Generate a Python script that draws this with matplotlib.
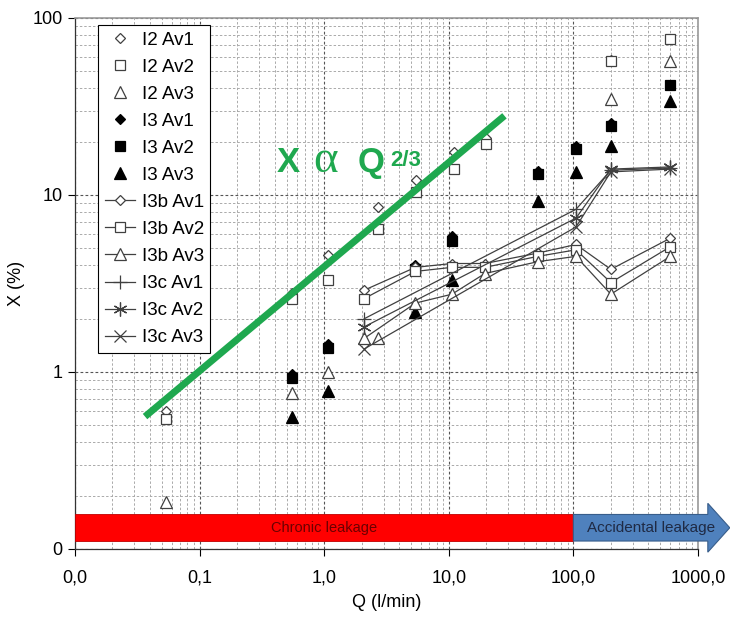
import matplotlib
matplotlib.use("Agg")
import matplotlib.pyplot as plt
import matplotlib.transforms as mtransforms
from matplotlib.patches import Polygon

plt.rcParams["font.family"] = ["Liberation Sans", "DejaVu Sans"]

# ---- data (Q in l/min, X in %) ----
Q_I2     = [0.054, 0.55, 1.07, 2.7, 5.5, 11.0, 20.0, 200, 600]
X_I2_AV1 = [0.60, 2.8, 4.6, 8.6, 12.2, 17.6, 21.0, 58, 76]
X_I2_AV2 = [0.54, 2.57, 3.3, 6.4, 10.4, 14.0, 19.3, 57, 76]
Q_I2_AV3 = [0.054, 0.55, 1.07, 2.7, 200, 600]
X_I2_AV3 = [0.185, 0.76, 1.0, 1.55, 35, 57]

Q_I3     = [0.55, 1.07, 5.4, 10.6, 52, 105, 200, 600]
X_I3_AV1 = [0.97, 1.43, 4.0, 5.9, 13.6, 18.8, 25.5, 42]
X_I3_AV2 = [0.93, 1.37, 3.8, 5.5, 13.1, 18.1, 24.4, 42]
X_I3_AV3 = [0.56, 0.78, 2.17, 3.3, 9.2, 13.4, 18.8, 33.9]

Q_I3B     = [2.1, 5.4, 10.6, 19.5, 52, 105, 200, 600]
X_I3B_AV1 = [2.9, 3.9, 4.1, 4.1, 4.7, 5.25, 3.8, 5.7]
X_I3B_AV2 = [2.6, 3.7, 3.9, 3.9, 4.5, 4.9, 3.2, 5.1]
X_I3B_AV3 = [1.55, 2.45, 2.75, 3.6, 4.2, 4.5, 2.75, 4.5]

Q_I3C     = [2.1, 105, 200, 600]
X_I3C_AV1 = [2.0, 8.3, 13.8, 14.2]
X_I3C_AV2 = [1.8, 7.4, 14.0, 14.4]
X_I3C_AV3 = [1.35, 6.6, 13.5, 14.0]

TREND_Q = [0.0365, 28.0]
TREND_X = [0.56, 28.0]

XTICKS       = [0.01, 0.1, 1, 10, 100, 1000]
XTICK_LABELS = ["0,0", "0,1", "1,0", "10,0", "100,0", "1000,0"]
YTICKS       = [0.1, 1, 10, 100]
YTICK_LABELS = ["0", "1", "10", "100"]

CHRONIC_END = 100
ARROW_HEAD  = 1200
ARROW_TIP   = 1800

EDGE  = "#404040"
GREEN = "#1fa84f"
RED   = "#ff0000"
BLUE  = "#4f81bd"


def main():
    fig = plt.figure(figsize=(7.3, 6.19), dpi=100)
    ax = fig.add_axes([0.1027, 0.1131, 0.8534, 0.8579])
    ax.set_xscale("log")
    ax.set_yscale("log")
    ax.set_xlim(0.01, 1000)
    ax.set_ylim(0.1, 100)

    series = [
        ("I2 Av1", Q_I2, X_I2_AV1, "D", 5.5, False, False),
        ("I2 Av2", Q_I2, X_I2_AV2, "s", 7.5, False, False),
        ("I2 Av3", Q_I2_AV3, X_I2_AV3, "^", 8, False, False),
        ("I3 Av1", Q_I3, X_I3_AV1, "D", 5.5, True, False),
        ("I3 Av2", Q_I3, X_I3_AV2, "s", 7.5, True, False),
        ("I3 Av3", Q_I3, X_I3_AV3, "^", 8, True, False),
        ("I3b Av1", Q_I3B, X_I3B_AV1, "D", 5.5, False, True),
        ("I3b Av2", Q_I3B, X_I3B_AV2, "s", 7.5, False, True),
        ("I3b Av3", Q_I3B, X_I3B_AV3, "^", 8, False, True),
        ("I3c Av1", Q_I3C, X_I3C_AV1, "+", 10, False, True),
        ("I3c Av2", Q_I3C, X_I3C_AV2, (6, 2, 0), 10, False, True),
        ("I3c Av3", Q_I3C, X_I3C_AV3, "x", 8, False, True),
    ]
    for label, q, x, marker, ms, filled, line in series:
        ax.plot(q, x, linestyle="-" if line else "none", color=EDGE, linewidth=0.9,
                marker=marker, markersize=ms,
                markerfacecolor="black" if filled else "white",
                markeredgecolor="black" if filled else EDGE,
                markeredgewidth=0.9, label=label, zorder=3)

    ax.plot(TREND_Q, TREND_X, color=GREEN, linewidth=5, solid_capstyle="butt", zorder=4)

    # leakage bands along the bottom
    ax.axvspan(0.01, CHRONIC_END, ymin=0.015, ymax=0.065, facecolor=RED,
               edgecolor="#c00000", linewidth=0.6, zorder=5)
    trans = mtransforms.blended_transform_factory(ax.transData, ax.transAxes)
    arrow = Polygon([(CHRONIC_END, 0.015), (ARROW_HEAD, 0.015), (ARROW_HEAD, -0.006),
                     (ARROW_TIP, 0.040), (ARROW_HEAD, 0.086), (ARROW_HEAD, 0.065),
                     (CHRONIC_END, 0.065)],
                    closed=True, transform=trans, facecolor=BLUE, edgecolor="#385d8a",
                    linewidth=0.8, clip_on=False, zorder=5)
    ax.add_patch(arrow)
    narrow = ["Liberation Sans Narrow", "Liberation Sans"]
    ax.text(1.0, 0.040, "Chronic leakage", transform=trans, ha="center", va="center",
            fontsize=10.5, color="#6b0000", family=narrow, zorder=6)
    ax.text(420, 0.040, "Accidental leakage", transform=trans, ha="center", va="center",
            fontsize=11, color="#1f2a44", family=narrow, zorder=6, clip_on=False)

    # X alpha Q^(2/3)
    ax.text(0.324, 0.71, "X", transform=ax.transAxes, fontsize=25, fontweight="bold",
            color=GREEN, va="baseline", zorder=6)
    ax.text(0.383, 0.71, "\u03b1", transform=ax.transAxes, fontsize=34,
            family=["Liberation Serif", "DejaVu Serif"], color=GREEN, va="baseline", zorder=6)
    ax.text(0.453, 0.71, "Q", transform=ax.transAxes, fontsize=25, fontweight="bold",
            color=GREEN, va="baseline", zorder=6)
    ax.text(0.506, 0.722, "2/3", transform=ax.transAxes, fontsize=16, fontweight="bold",
            color=GREEN, va="baseline", zorder=6)

    # grid
    ax.grid(which="major", color="#555555", linestyle=(0, (2.5, 2)), linewidth=0.8)
    ax.grid(which="minor", color="#aaaaaa", linestyle=(0, (2.5, 2)), linewidth=0.7)
    ax.set_axisbelow(True)

    ax.set_xticks(XTICKS)
    ax.set_xticklabels(XTICK_LABELS)
    ax.set_yticks(YTICKS)
    ax.set_yticklabels(YTICK_LABELS)
    ax.tick_params(which="major", direction="out", length=5, width=0.8, labelsize=13)
    ax.tick_params(axis="x", which="major", pad=10)
    ax.tick_params(axis="y", which="major", pad=4)
    ax.tick_params(which="minor", length=0)

    for side in ("top", "right"):
        ax.spines[side].set_color("#999999")
        ax.spines[side].set_linewidth(1.2)
    for side in ("left", "bottom"):
        ax.spines[side].set_color("#333333")
        ax.spines[side].set_linewidth(0.9)

    ax.set_xlabel("Q (l/min)", fontsize=13)
    ax.set_ylabel("X (%)", fontsize=13)
    ax.xaxis.set_label_coords(0.5, -0.085)
    ax.yaxis.set_label_coords(-0.08, 0.5)

    leg = ax.legend(loc="upper left", bbox_to_anchor=(0.037, 0.987), fontsize=13.5,
                    fancybox=False, edgecolor="black", framealpha=1, labelspacing=0.53,
                    handlelength=1.6, handletextpad=0.37, borderpad=0.35, borderaxespad=0)
    leg.get_frame().set_linewidth(0.8)
    leg.set_zorder(10)

    fig.savefig("out.png", dpi=100)


if __name__ == "__main__":
    main()
